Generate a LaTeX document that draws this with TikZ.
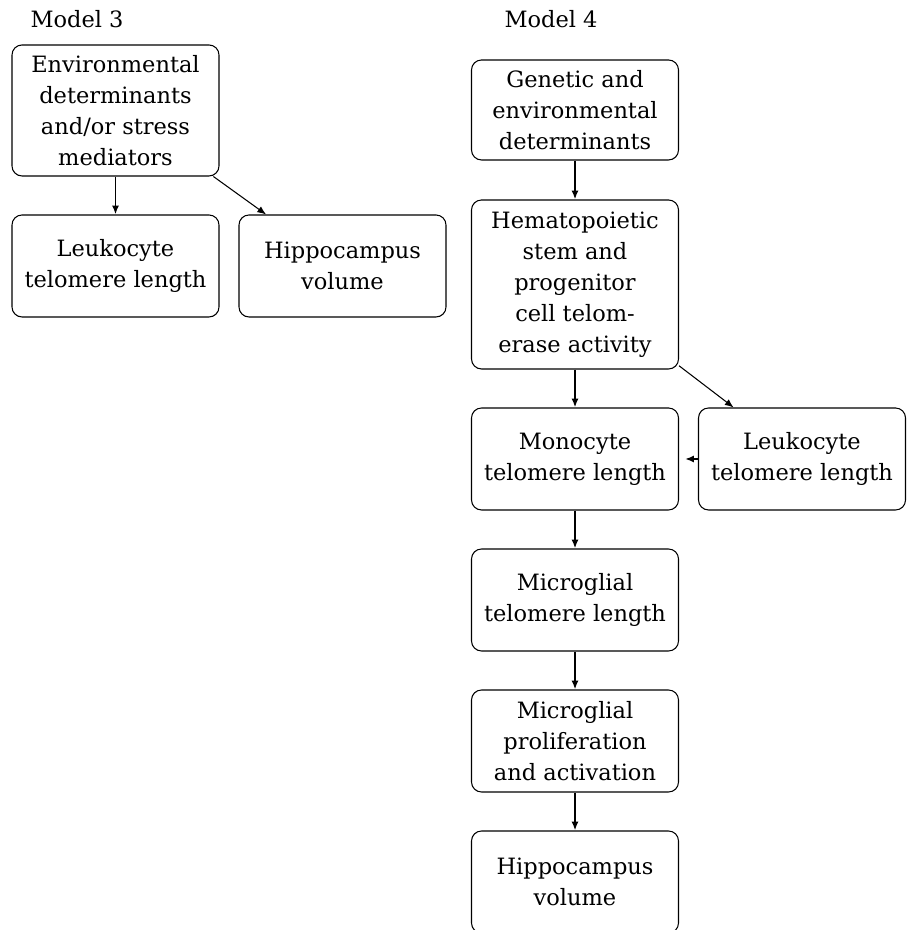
\documentclass[tikz,border=0pt]{standalone}
\usepackage{fontspec}
\setmainfont{DejaVu Serif}
\usetikzlibrary{arrows.meta}
\begin{document}
\begin{tikzpicture}[every node/.style={font=\fontsize{12.8}{17.6}\selectfont, align=center},
  box/.style={draw, line width=0.6pt, rounded corners=0.2cm, minimum width=4.14cm, minimum height=2.04cm, inner sep=2pt},
  down/.style={line width=1.1pt, -{Latex[length=5pt,width=4pt]}},
  side/.style={line width=0.6pt, -{Latex[length=5pt,width=4pt]}}]
\useasboundingbox (0,0) rectangle (18.14,18.6);
% Model 3: one cause, two outcomes
\node (mthree) at (1.54,18.22) {Model 3};
\node[box, minimum height=2.62cm] (env) at (2.31,16.39) {Environmental\\determinants\\and/or stress\\mediators};
\node[box] (leukA) at (2.31,13.28) {Leukocyte\\telomere length};
\node[box] (hippoA) at (6.85,13.28) {Hippocampus\\volume};
\draw[down] (env) -- (leukA);
\draw[side] (env.-34.4) -- (hippoA.146);
% Model 4: the chain down to the hippocampus
\node (mfour) at (11.02,18.22) {Model 4};
\node[box, minimum height=2.0cm] (gen) at (11.5,16.4) {Genetic and\\environmental\\determinants};
\node[box, minimum height=3.38cm] (hema) at (11.5,12.91) {Hematopoietic\\stem and\\progenitor\\cell telom-\\erase activity};
\node[box] (mono) at (11.5,9.42) {Monocyte\\telomere length};
\node[box] (leukB) at (16.04,9.42) {Leukocyte\\telomere length};
\node[box] (micro) at (11.5,6.6) {Microglial\\telomere length};
\node[box] (prolif) at (11.5,3.78) {Microglial\\proliferation\\and activation};
\node[box] (hippoB) at (11.5,0.96) {Hippocampus\\volume};
\foreach \a/\b in {gen/hema, hema/mono, mono/micro, micro/prolif, prolif/hippoB}
  \draw[down] (\a) -- (\b);
\draw[side] (hema.-38) -- (leukB.143.5);
\draw[down, shorten >=0.12cm] (leukB) -- (mono);
\end{tikzpicture}
\end{document}
